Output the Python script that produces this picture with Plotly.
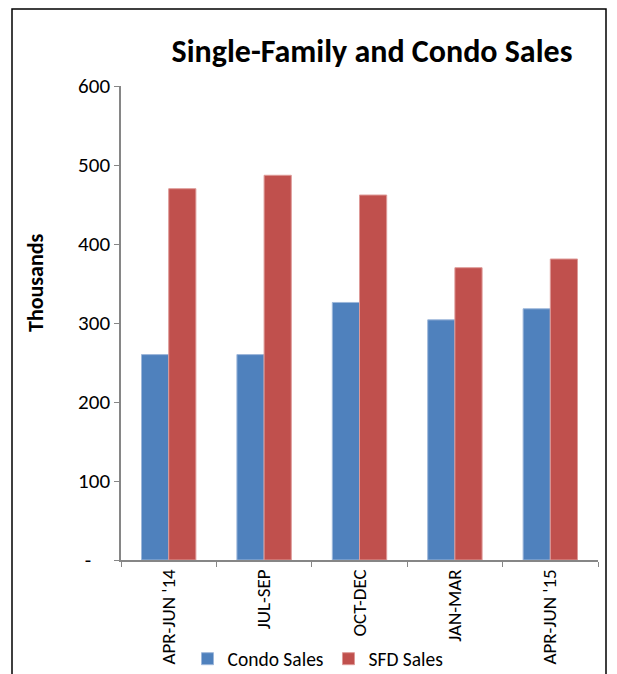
import plotly.graph_objects as go

categories = ["APR-JUN '14", "JUL-SEP", "OCT-DEC", "JAN-MAR", "APR-JUN '15"]
condo_sales = [260, 260, 326, 304, 318]
sfd_sales = [470, 487, 462, 370, 381]
y_tick_vals = [0, 100, 200, 300, 400, 500, 600]
y_tick_text = ["-\u00a0\u00a0\u00a0\u00a0", "100", "200", "300", "400", "500", "600"]

FONT = "Carlito, Calibri, Lato, 'Open Sans', sans-serif"

# the page body adds an 8px margin, so the figure is drawn 8px smaller
OFF = 8
W, H = 617 - OFF, 674 - OFF
L, T = 121 - OFF, 86 - OFF
R, B = W - (598 - OFF), H - (560 - OFF)
PW, PH = W - L - R, H - T - B


def px(xp):
    return (xp - OFF - L) / PW


def py(yp):
    return (H - B - (yp - OFF)) / PH


fig = go.Figure()
fig.add_trace(go.Bar(name="Condo Sales", x=categories, y=condo_sales,
                     marker=dict(color="#4F81BD", line=dict(color="#9DB7DA", width=1))))
fig.add_trace(go.Bar(name="SFD Sales", x=categories, y=sfd_sales,
                     marker=dict(color="#C0504D", line=dict(color="#DE9A98", width=1))))

fig.update_layout(
    width=W, height=H,
    margin=dict(l=L, r=R, t=T, b=B, autoexpand=False),
    paper_bgcolor="white", plot_bgcolor="white",
    barmode="group", bargap=0.43, bargroupgap=0,
    font=dict(family=FONT, size=18, color="black"),
    title=dict(text="<b>Single-Family and Condo Sales</b>", x=(372 - OFF) / W, xanchor="center",
               y=1 - (51 - OFF) / H, yanchor="middle",
               font=dict(size=32, family=FONT, color="black")),
    legend=dict(orientation="h", x=px(318), xanchor="center",
                y=py(659), yanchor="middle",
                font=dict(size=19.5, family=FONT), bgcolor="rgba(0,0,0,0)",
                itemwidth=30, traceorder="normal"),
    showlegend=True,
)
fig.update_xaxes(
    automargin=False,
    showline=True, linecolor="#868686", linewidth=1.5,
    ticks="outside", ticklen=5, tickcolor="#868686", tickson="boundaries",
    tickangle=-90, tickfont=dict(size=19, family=FONT), showgrid=False,
)
fig.update_yaxes(
    automargin=False,
    range=[0, 600], tickvals=y_tick_vals, ticktext=y_tick_text,
    showline=True, linecolor="#868686", linewidth=1.5,
    ticks="outside", ticklen=5, tickcolor="#868686", showgrid=False, zeroline=False,
    tickfont=dict(size=21, family=FONT),
)
fig.add_annotation(text="<b>Thousands</b>", xref="paper", yref="paper",
                   x=px(35), y=py(283), textangle=-90,
                   showarrow=False, xanchor="center", yanchor="middle",
                   font=dict(size=22, family=FONT, color="black"))
fig.add_shape(type="rect", xref="paper", yref="paper",
              x0=px(12), x1=px(606),
              y0=py(700), y1=py(9),
              line=dict(color="black", width=1.5), fillcolor="rgba(0,0,0,0)", layer="below")

fig.write_html("out.html")
